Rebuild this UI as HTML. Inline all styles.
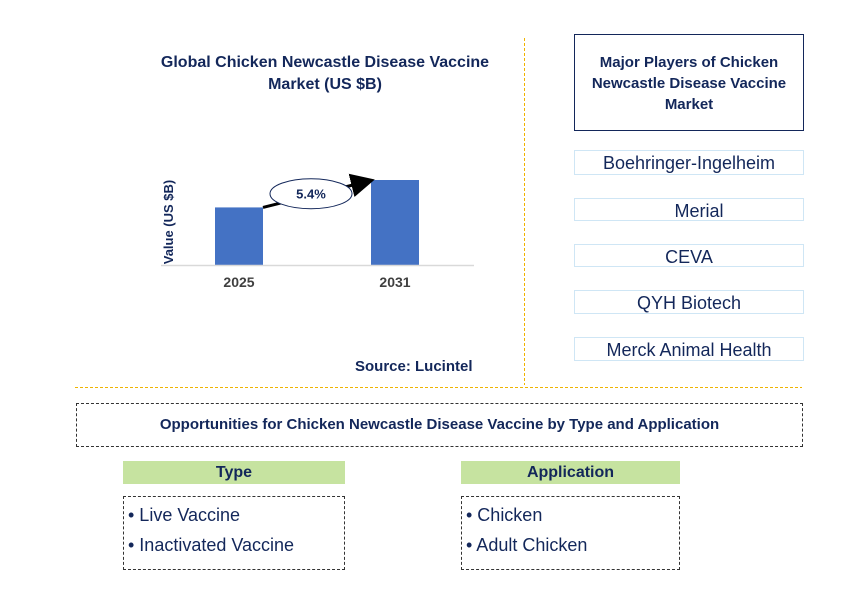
<!DOCTYPE html>
<html><head><meta charset="utf-8"><style>
body{margin:0;width:868px;height:610px;background:#fff;font-family:"Liberation Sans",sans-serif;position:relative;overflow:hidden}
.a{position:absolute;box-sizing:border-box}
.t{color:#13275a;font-weight:bold}
.pl{border:1.5px solid #cfe6f5;color:#13275a;font-size:18px;text-align:center;line-height:24px}
.hd{background:#c6e3a0;color:#13275a;font-weight:bold;font-size:16px;text-align:center;line-height:23px}
.ls{border:1px dashed #333;color:#13275a;font-size:18px;padding:3px 4px;line-height:30px}
</style></head><body>
<div class="a t" style="left:140px;top:52px;width:370px;text-align:center;font-size:16px;line-height:22px">Global Chicken Newcastle Disease Vaccine Market (US $B)</div>
<svg class="a" style="left:0;top:0" width="868" height="610">
<defs><marker id="ar" markerWidth="8" markerHeight="8" refX="6" refY="4" orient="auto"><path d="M0,0L8,4L0,8z" fill="#000"/></marker></defs>
<g id="chart"></g>
<line x1="161" y1="265.5" x2="474" y2="265.5" stroke="#d9d9d9" stroke-width="1.5"/>
<text x="173" y="222" transform="rotate(-90 173 222)" text-anchor="middle" font-size="13" font-weight="bold" fill="#13275a" font-family="Liberation Sans">Value (US $B)</text>
<line x1="524.5" y1="38" x2="524.5" y2="385" stroke="#f0b400" stroke-dasharray="3,2"/>
<line x1="75" y1="387.5" x2="802" y2="387.5" stroke="#f0b400" stroke-dasharray="3,2"/>
</svg>
<script>
const categories=["2025","2031"];
const values=[2.1,3.1];
const cagr="5.4%";
const g=document.getElementById('chart');const ns="http://www.w3.org/2000/svg";
const base=265,maxV=3.1,maxH=85;
function y(v){return base-v/maxV*maxH;}
function x(i){return 215+i*156;}
const bw=48;
categories.forEach((c,i)=>{
 const r=document.createElementNS(ns,'rect');
 r.setAttribute('x',x(i));r.setAttribute('y',y(values[i]));r.setAttribute('width',bw);r.setAttribute('height',base-y(values[i]));r.setAttribute('fill','#4472c4');
 
 
 g.appendChild(r);
 const t=document.createElementNS(ns,'text');
 t.setAttribute('x',x(i)+bw/2);t.setAttribute('y',287);t.setAttribute('text-anchor','middle');t.setAttribute('font-size','14');t.setAttribute('font-weight','bold');t.setAttribute('fill','#404040');t.setAttribute('font-family','Liberation Sans');t.textContent=c;
 
 
 g.appendChild(t);
});
const x1=x(0)+bw,y1=y(values[0]),x2=x(1)-2,y2=y(values[1]);
const l=document.createElementNS(ns,'line');
l.setAttribute('x1',x1);l.setAttribute('y1',y1);l.setAttribute('x2',x2);l.setAttribute('y2',y2+1);l.setAttribute('stroke','#000');l.setAttribute('stroke-width','3');l.setAttribute('marker-end','url(#ar)');


g.appendChild(l);
const cx=(x1+x2)/2-5,cy=(y1+y2)/2;
const e=document.createElementNS(ns,'ellipse');
e.setAttribute('cx',cx);e.setAttribute('cy',cy);e.setAttribute('rx',41);e.setAttribute('ry',15);e.setAttribute('fill','#fff');e.setAttribute('stroke','#13275a');


g.appendChild(e);
const ct=document.createElementNS(ns,'text');
ct.setAttribute('x',cx);ct.setAttribute('y',cy+5);ct.setAttribute('text-anchor','middle');ct.setAttribute('font-size','13');ct.setAttribute('font-weight','bold');ct.setAttribute('fill','#13275a');ct.setAttribute('font-family','Liberation Sans');ct.textContent=cagr;


g.appendChild(ct);
</script>
<div class="a t" style="left:355px;top:358px;font-size:15px">Source: Lucintel</div>
<div class="a t" style="left:574px;top:34px;width:230px;height:97px;border:1.5px solid #13275a;text-align:center;font-size:15px;line-height:21px;padding-top:17px">Major Players of Chicken Newcastle Disease Vaccine Market</div>
<div class="a pl" style="left:574px;top:150px;width:230px;height:25px">Boehringer-Ingelheim</div>
<div class="a pl" style="left:574px;top:198px;width:230px;height:23px;padding-left:20px">Merial</div>
<div class="a pl" style="left:574px;top:244px;width:230px;height:23px">CEVA</div>
<div class="a pl" style="left:574px;top:290px;width:230px;height:24px">QYH Biotech</div>
<div class="a pl" style="left:574px;top:337px;width:230px;height:24px">Merck Animal Health</div>
<div class="a t" style="left:76px;top:403px;width:727px;height:44px;border:1px dashed #333;text-align:center;font-size:15px;line-height:42px">Opportunities for Chicken Newcastle Disease Vaccine by Type and Application</div>
<div class="a hd" style="left:123px;top:461px;width:222px;height:23px">Type</div>
<div class="a ls" style="left:123px;top:496px;width:222px;height:74px">• Live Vaccine<br>• Inactivated Vaccine</div>
<div class="a hd" style="left:461px;top:461px;width:219px;height:23px">Application</div>
<div class="a ls" style="left:461px;top:496px;width:219px;height:74px">• Chicken<br>• Adult Chicken</div>
</body></html>
